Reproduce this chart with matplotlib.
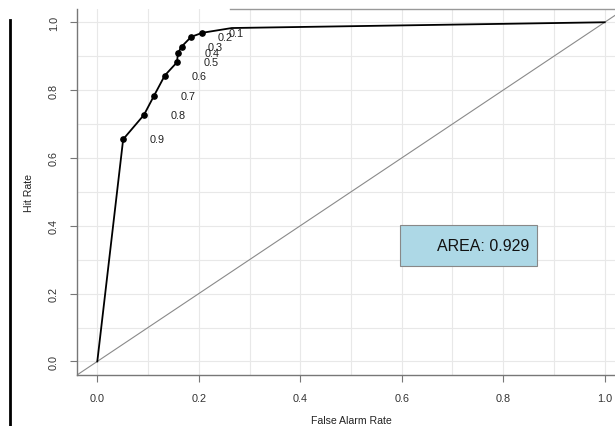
import matplotlib
matplotlib.use("Agg")
import matplotlib.pyplot as plt
from matplotlib.patches import Rectangle
from matplotlib.lines import Line2D
import numpy as np

plt.rcParams['font.family'] = ['Liberation Sans', 'DejaVu Sans']

# ROC curve data (false alarm rate, hit rate)
false_alarm = [0.0, 0.051, 0.092, 0.112, 0.133, 0.157, 0.159, 0.166, 0.185, 0.207, 0.265, 1.0]
hit_rate = [0.0, 0.655, 0.727, 0.784, 0.843, 0.882, 0.909, 0.928, 0.957, 0.969, 0.983, 1.0]
# threshold points (0.9 .. 0.1)
thr_labels = ['0.9', '0.8', '0.7', '0.6', '0.5', '0.4', '0.3', '0.2', '0.1']
thr_far = [0.051, 0.092, 0.112, 0.133, 0.157, 0.159, 0.166, 0.185, 0.207]
thr_hit = [0.655, 0.727, 0.784, 0.843, 0.882, 0.909, 0.928, 0.957, 0.969]
area = 0.929
tick_vals = [0.0, 0.2, 0.4, 0.6, 0.8, 1.0]
tick_labels = ['0.0', '0.2', '0.4', '0.6', '0.8', '1.0']

W, H = 615, 427
fig = plt.figure(figsize=(W / 100, H / 100), dpi=100)
fig.patch.set_facecolor('white')

left_px, right_px, bottom_px, top_px = 77, 625, 376, 9.7
ax = fig.add_axes([left_px / W, (H - bottom_px) / H,
                   (right_px - left_px) / W, (bottom_px - top_px) / H])
ax.set_xlim(-0.04, 1.04)
ax.set_ylim(-0.04, 1.04)

# grid every 0.1
for g in np.arange(0, 1.01, 0.1):
    ax.axvline(g, color='#e8e8e8', lw=0.8, zorder=0)
    ax.axhline(g, color='#e8e8e8', lw=0.8, zorder=0)

# diagonal reference line
ax.axline((0, 0), (1, 1), color='#8a8a8a', lw=0.8, zorder=1)

# ROC curve
ax.plot(false_alarm, hit_rate, color='black', lw=1.3, zorder=3)
ax.plot(thr_far, thr_hit, 'o', color='black', ms=3.8, zorder=4)
for lab, xv, yv in zip(thr_labels, thr_far, thr_hit):
    ax.text(xv + 0.067, yv, lab, ha='center', va='center', fontsize=7.8,
            color='#222222', zorder=5)

# area box
ax.add_patch(Rectangle((0.597, 0.281), 0.269, 0.120, facecolor='#ADD8E6',
                       edgecolor='#888888', lw=0.8, zorder=6))
ax.text(0.852, 0.341, f'AREA: {area}', ha='right', va='center', fontsize=11.5,
        color='#111111', zorder=7)

ax.set_xticks(tick_vals)
ax.set_xticklabels(tick_labels)
ax.set_yticks(tick_vals)
ax.set_yticklabels(tick_labels, rotation=90, va='center')
ax.tick_params(axis='both', length=5, width=0.8, color='#777777',
               labelsize=7.8, labelcolor='#333333')
ax.tick_params(axis='x', pad=8)
ax.tick_params(axis='y', pad=8)

for s in ['left', 'bottom']:
    ax.spines[s].set_color('#777777')
    ax.spines[s].set_linewidth(1.0)
ax.spines['right'].set_visible(False)
ax.spines['top'].set_color('#999999')
ax.spines['top'].set_linewidth(1.0)
ax.spines['top'].set_bounds(0.262, 1.04)

ax.set_xlabel('False Alarm Rate', fontsize=7.6, color='#222222')
ax.set_ylabel('Hit Rate', fontsize=7.6, color='#222222')
ax.xaxis.set_label_coords((351 - left_px) / (right_px - left_px), -(416 - bottom_px) / (bottom_px - top_px))
ax.yaxis.set_label_coords(-(left_px - 34) / (right_px - left_px), 0.5)

# black vertical border line at left
fig.add_artist(Line2D([10 / W, 10 / W], [0, (H - 21) / H], color='black', lw=2.0))

fig.savefig('out.png', dpi=100, facecolor='white')
